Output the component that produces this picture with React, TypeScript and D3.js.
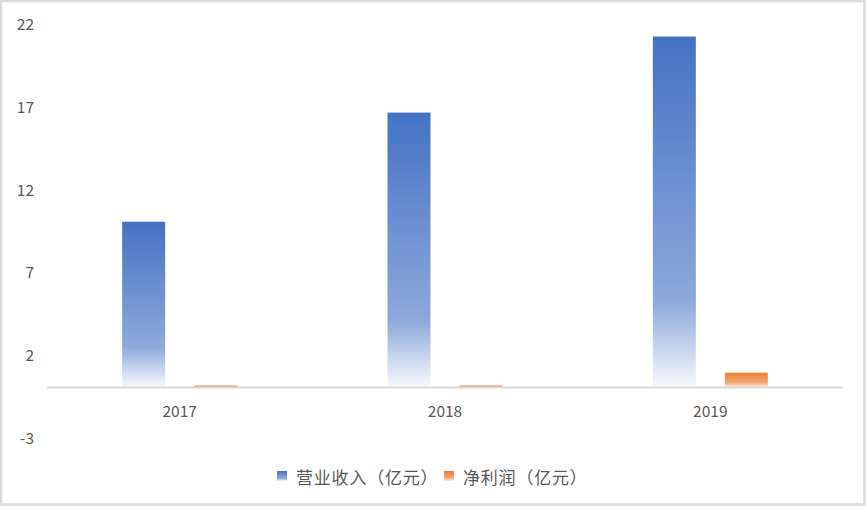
import * as d3 from 'd3';

const years = ['2017', '2018', '2019'];
const revenue = [10.0, 16.6, 21.2];
const netProfit = [0.1, 0.1, 0.87];
const seriesNames = ['营业收入（亿元）', '净利润（亿元）'];
const yTicks = [-3, 2, 7, 12, 17, 22];

const W = 866;
const H = 506;
const FONT = '"Noto Sans CJK SC", "Noto Sans", sans-serif';

export default function App() {
  const x = d3.scaleBand<string>().domain(years).range([47, 843]).paddingInner(0).paddingOuter(0);
  const y = d3.scaleLinear().domain([-3, 22]).range([436.7, 23.3]);
  const barW = 43;
  const gap = 29;
  const colors = ['#4472C4', '#ED7D31'];
  const series = [revenue, netProfit];

  return (
    <svg width={W} height={H} style={{ position: 'absolute', left: 0, top: 0, fontFamily: FONT }}>
      <defs>
        <linearGradient id="gBlue" x1="0" y1="0" x2="0" y2="1">
          <stop offset="0" stopColor="#4472C4" />
          <stop offset="0.76" stopColor="#8EA9DB" />
          <stop offset="1" stopColor="#F7F9FD" />
        </linearGradient>
        <linearGradient id="gOrange" x1="0" y1="0" x2="0" y2="1">
          <stop offset="0" stopColor="#ED7D31" />
          <stop offset="0.7" stopColor="#F4A877" />
          <stop offset="1" stopColor="#FDF1E9" />
        </linearGradient>
      </defs>
      <rect x={0} y={0} width={W} height={H} fill="#fff" />
      <rect x={1} y={1} width={W - 2.5} height={H - 2.5} fill="none" stroke="#d9d9d9" strokeWidth={2.5} />

      {yTicks.map(t => (
        <text key={t} x={34} y={y(t)} textAnchor="end" dominantBaseline="central" fontSize={15.5} fill="#595959">
          {t}
        </text>
      ))}

      {series.map((vals, si) =>
        vals.map((v, i) => {
          const cx = x(years[i])! + x.bandwidth() / 2;
          const bx = si === 0 ? cx - gap / 2 - barW : cx + gap / 2;
          return (
            <rect
              key={`${si}-${i}`}
              x={bx}
              y={y(v)}
              width={barW}
              height={Math.max(0.5, y(0) - y(v))}
              fill={si === 0 ? 'url(#gBlue)' : (v < 0.5 ? colors[1] : 'url(#gOrange)')}
              opacity={si === 1 && v < 0.5 ? 0.8 : 1}
            />
          );
        })
      )}

      <line x1={47} x2={843} y1={y(0) + 0.5} y2={y(0) + 0.5} stroke="#d9d9d9" strokeWidth={2} />

      {years.map(yr => (
        <text key={yr} x={x(yr)! + x.bandwidth() / 2} y={410} textAnchor="middle" dominantBaseline="central" fontSize={15.5} fill="#595959">
          {yr}
        </text>
      ))}

      {seriesNames.map((name, i) => {
        const lx = i === 0 ? 277 : 444;
        return (
          <g key={name}>
            <rect x={lx} y={471} width={10} height={10} fill={i === 0 ? 'url(#gBlue)' : 'url(#gOrange)'} />
            <text x={lx + 19} y={476} dominantBaseline="central" fontSize={17} letterSpacing={0.8} fill="#595959">
              {name}
            </text>
          </g>
        );
      })}
    </svg>
  );
}
